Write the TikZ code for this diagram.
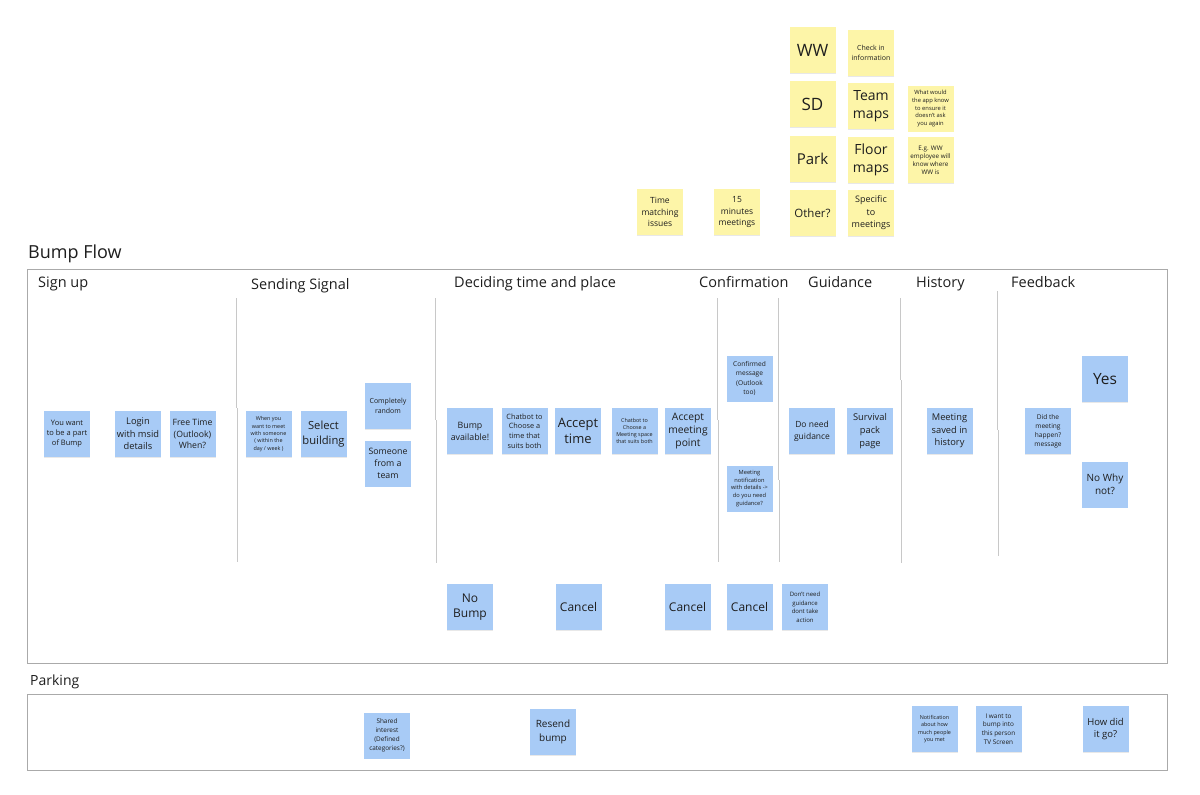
\documentclass[tikz,border=0pt]{standalone}
\usepackage{fontspec}
\setmainfont{Open Sans}
\usetikzlibrary{shadows}
\definecolor{bnotec}{RGB}{168,203,246}
\definecolor{ynotec}{RGB}{253,245,168}
\definecolor{ink}{RGB}{30,30,30}
\definecolor{framegray}{RGB}{170,170,170}
\definecolor{divgray}{RGB}{200,200,200}
\newcommand\fs[2]{\fontsize{#1}{#2}\selectfont}
\begin{document}
\begin{tikzpicture}[x=1pt,y=-1pt,
  note/.style={minimum width=46pt,minimum height=46pt,inner sep=0pt,align=center,text=ink,
    drop shadow={opacity=0.18,shadow xshift=0.4pt,shadow yshift=-0.8pt}},
  bnote/.style={note,fill=bnotec},
  ynote/.style={note,fill=ynotec},
  framebox/.style={draw=framegray,line width=1pt},
  divider/.style={draw=divgray,line width=0.8pt},
  head/.style={anchor=base west,inner sep=0pt,text=ink}]
\useasboundingbox[fill=white] (0,0) rectangle (1200,795);

% ---------- yellow notes ----------
\node[ynote,font=\fs{17}{20}] (ww) at (812.5,50) {WW};
\node[ynote,font=\fs{7}{9.5}] (checkin) at (871,53) {Check in\\information};
\node[ynote,font=\fs{17}{20}] (sd) at (812.5,104) {SD};
\node[ynote,font=\fs{14}{18}] (teammaps) at (871,106) {Team\\maps};
\node[ynote,font=\fs{5.8}{7.6}] (whatwould) at (930.5,108.5) {What would\\the app know\\to ensure it\\doesn't ask\\you again};
\node[ynote,font=\fs{15}{18}] (park) at (812.5,159) {Park};
\node[ynote,font=\fs{14}{18}] (floormaps) at (871,160) {Floor\\maps};
\node[ynote,font=\fs{6.3}{8}] (eg) at (930.5,160) {E.g. WW\\employee will\\know where\\WW is};
\node[ynote,font=\fs{8.5}{11.5}] (timematch) at (660,212) {Time\\matching\\issues};
\node[ynote,font=\fs{8.5}{11.5}] (fifteen) at (737,212) {15\\minutes\\meetings};
\node[ynote,font=\fs{11.5}{14}] (other) at (812.5,213) {Other?};
\node[ynote,font=\fs{9}{12.5}] (specific) at (871,213) {Specific\\to\\meetings};

% ---------- titles and frames ----------
\node[head,font=\fs{18}{20}] (bumpflow) at (28,258) {Bump Flow};
\draw[framebox] (27,269) rectangle (1167,663);
\node[head,font=\fs{14}{16}] (parkingtitle) at (30,685) {Parking};
\draw[framebox] (27,694) rectangle (1167,770);

% section headings
\node[head,font=\fs{14.5}{16}] (h1) at (38,287) {Sign up};
\node[head,font=\fs{14.5}{16}] (h2) at (251,289) {Sending Signal};
\node[head,font=\fs{14.5}{16}] (h3) at (454,287) {Deciding time and place};
\node[head,font=\fs{14.5}{16}] (h4) at (699,287) {Confirmation};
\node[head,font=\fs{14.5}{16}] (h5) at (808,287) {Guidance};
\node[head,font=\fs{14.5}{16}] (h6) at (916,287) {History};
\node[head,font=\fs{14.5}{16}] (h7) at (1011,287) {Feedback};

% dividers
\draw[divider] (236,298) -- (236,408);
\draw[divider] (237,408) -- (237,562);
\draw[divider] (435,298) -- (435,420);
\draw[divider] (436,420) -- (436,563);
\draw[divider] (717,298) -- (717,420);
\draw[divider] (718,420) -- (718,562);
\draw[divider] (778,298) -- (778,480);
\draw[divider] (779,480) -- (779,562);
\draw[divider] (900,298) -- (900,380);
\draw[divider] (901,380) -- (901,563);
\draw[divider] (997,291) -- (997,430);
\draw[divider] (998,430) -- (998,556);

% ---------- blue notes: main flow ----------
\node[bnote,font=\fs{7.5}{10}] (wantpart) at (67,434) {You want\\to be a part\\of Bump};
\node[bnote,font=\fs{9.3}{12.5}] (login) at (138,434) {Login\\with msid\\details};
\node[bnote,font=\fs{8.7}{11.5}] (freetime) at (192.5,434) {Free Time\\(Outlook)\\When?};
\node[bnote,font=\fs{5.4}{7.4}] (whenmeet) at (268.5,434) {When you\\want to meet\\with someone\\( within the\\day / week )};
\node[bnote,font=\fs{11.2}{14.5}] (select) at (323.5,434) {Select\\building};
\node[bnote,font=\fs{7}{9.5}] (random) at (388,406) {Completely\\random};
\node[bnote,font=\fs{8.8}{12}] (someone) at (388,463.5) {Someone\\from a\\team};

\node[bnote,font=\fs{8.8}{12}] (bumpavail) at (470,431) {Bump\\available!};
\node[bnote,font=\fs{7.3}{9.8}] (chattime) at (524.5,431) {Chatbot to\\Choose a\\time that\\suits both};
\node[bnote,font=\fs{13}{15.5}] (accepttime) at (578,431) {Accept\\time};
\node[bnote,font=\fs{5.4}{7.3}] (chatspace) at (634.5,431) {Chatbot to\\Choose a\\Meeting space\\that suits both};
\node[bnote,font=\fs{10.3}{13}] (acceptpoint) at (688,431) {Accept\\meeting\\point};
\node[bnote,font=\fs{6.6}{9.5}] (confirmed) at (749.5,378.5) {Confirmed\\message\\(Outlook\\too)};
\node[bnote,font=\fs{5.7}{7.6}] (notif) at (749.5,488.5) {Meeting\\notification\\with details -\textgreater\\do you need\\guidance?};

\node[bnote,font=\fs{8.5}{11.8}] (needguid) at (812,431) {Do need\\guidance};
\node[bnote,font=\fs{9.3}{12.8}] (survival) at (870,431) {Survival\\pack\\page};
\node[bnote,font=\fs{9.3}{12.5}] (saved) at (949.5,431) {Meeting\\saved in\\history};
\node[bnote,font=\fs{6.6}{9}] (didhappen) at (1048,431) {Did the\\meeting\\happen?\\message};
\node[bnote,font=\fs{15.5}{18}] (yes) at (1105,379) {Yes};
\node[bnote,font=\fs{10}{13}] (nowhy) at (1105,484.5) {No Why\\not?};

\node[bnote,font=\fs{12}{15.5}] (nobump) at (470,607) {No\\Bump};
\node[bnote,font=\fs{12}{15}] (cancel1) at (578.5,607) {Cancel};
\node[bnote,font=\fs{12}{15}] (cancel2) at (687.5,607) {Cancel};
\node[bnote,font=\fs{12}{15}] (cancel3) at (749.5,607) {Cancel};
\node[bnote,font=\fs{6}{8.5}] (dontneed) at (805,607) {Don't need\\guidance\\dont take\\action};

% ---------- blue notes: parking ----------
\node[bnote,font=\fs{6.4}{8.8}] (shared) at (387,735.5) {Shared\\interest\\(Defined\\categories?)};
\node[bnote,font=\fs{10}{13.5}] (resend) at (553,732) {Resend\\bump};
\node[bnote,font=\fs{5.4}{7.6}] (howmany) at (934.5,729) {Notification\\about how\\much people\\you met};
\node[bnote,font=\fs{6.4}{8.6}] (bumpinto) at (998.5,729) {I want to\\bump into\\this person\\TV Screen};
\node[bnote,font=\fs{9.5}{12.5}] (howdid) at (1105.5,729) {How did\\it go?};
\end{tikzpicture}
\end{document}
